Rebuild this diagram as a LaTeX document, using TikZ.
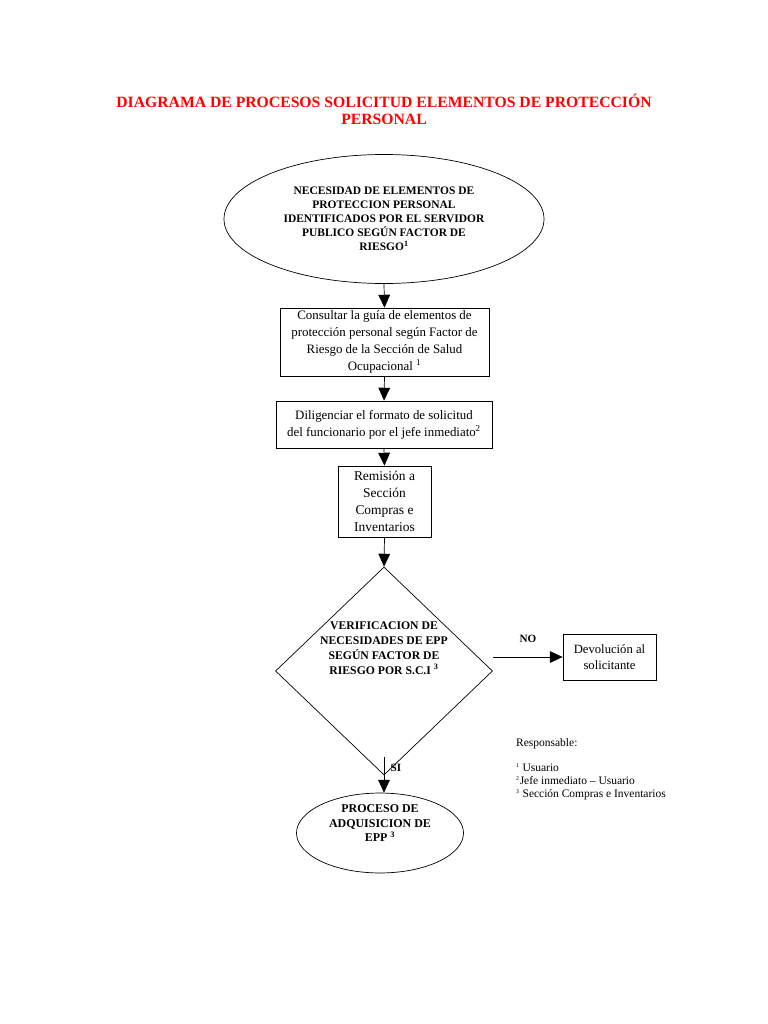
\documentclass[tikz,border=0pt]{standalone}
\usepackage{fontspec}
\setmainfont{Liberation Serif}
\usetikzlibrary{positioning, arrows.meta, shapes.geometric}

\tikzset{
    flow/.style={line width=0.6pt, -{Triangle[width=10pt,length=11pt]}},
    stepbox/.style={rectangle, draw=black, line width=0.6pt, align=center, inner sep=0pt, font=\fontsize{11}{14.5}\selectfont},
    terminal/.style={ellipse, draw=black, line width=0.6pt, align=center, inner sep=0pt, font=\bfseries\fontsize{9.8}{12}\selectfont},
}

\begin{document}
\begin{tikzpicture}[x=0.03cm, y=-0.03cm]

\useasboundingbox (0,0) rectangle (768,1024);

% title
\node[red, align=center, font=\bfseries\fontsize{13.4}{14.5}\selectfont] (title) at (384,109)
    {DIAGRAMA DE PROCESOS SOLICITUD ELEMENTOS DE PROTECCIÓN\\PERSONAL};

% start ellipse
\node[terminal, minimum width=9.6cm, minimum height=3.87cm] (need) at (384,219)
    {NECESIDAD DE ELEMENTOS DE\\PROTECCION PERSONAL\\IDENTIFICADOS POR EL SERVIDOR\\PUBLICO SEGÚN FACTOR DE\\RIESGO\textsuperscript{1}};

% steps
\node[stepbox, minimum width=6.27cm, minimum height=2.04cm] (guide) at (384.5,342)
    {Consultar la guía de elementos de\\protección personal según Factor de\\Riesgo de la Sección de Salud\\Ocupacional \textsuperscript{1}};

\node[stepbox, minimum width=6.48cm, minimum height=1.41cm] (form) at (384,424.5)
    {Diligenciar el formato de solicitud\\del funcionario por el jefe inmediato\textsuperscript{2}};

\node[stepbox, minimum width=2.79cm, minimum height=2.13cm, font=\fontsize{11.5}{14.5}\selectfont] (send) at (384.5,501.5)
    {Remisión a\\Sección\\Compras e\\Inventarios};

% decision
\node[diamond, draw=black, line width=0.6pt, minimum width=6.51cm, minimum height=6.24cm, inner sep=0pt] (check) at (384,671) {};
\node[align=center, font=\bfseries\fontsize{10}{12.7}\selectfont] (checktext) at (384,648)
    {VERIFICACION DE\\NECESIDADES DE EPP\\SEGÚN FACTOR DE\\RIESGO POR S.C.I \textsuperscript{3}};

\node[stepbox, minimum width=2.79cm, minimum height=1.38cm, font=\fontsize{10.8}{14}\selectfont] (back) at (609.5,657)
    {Devolución al\\solicitante};

% end ellipse
\node[terminal, minimum width=5.01cm, minimum height=2.19cm, font=\bfseries\fontsize{10.2}{12.5}\selectfont] (buy) at (380,833)
    {PROCESO DE\\ADQUISICION DE\\EPP \textsuperscript{3}\\[4pt]};

% arrows
\draw[flow] (need.south) -- (guide.north);
\draw[flow] (guide.south) -- (form.north);
\draw[flow] (form.south) -- (send.north);
\draw[flow] (send.south) -- (check.north);

\coordinate (nostart) at (493,657);
\draw[flow] (nostart) -- (back.west);
\node[font=\bfseries\fontsize{9.5}{12}\selectfont] (nolabel) at (528,639) {NO};

\coordinate (sistart) at (384,757);
\draw[flow] (sistart) -- (sistart |- buy.north);
\node[font=\bfseries\fontsize{9.5}{12}\selectfont] (silabel) at (396,768) {SI};

% legend
\node[anchor=north west, align=left, inner sep=0pt, font=\fontsize{9.8}{11}\selectfont] (legend) at (516,738)
    {Responsable:\\[11pt]\textsuperscript{\tiny 1} Usuario\\\textsuperscript{\tiny 2}Jefe inmediato -- Usuario\\\textsuperscript{\tiny 3} Sección Compras e Inventarios};

\end{tikzpicture}
\end{document}
